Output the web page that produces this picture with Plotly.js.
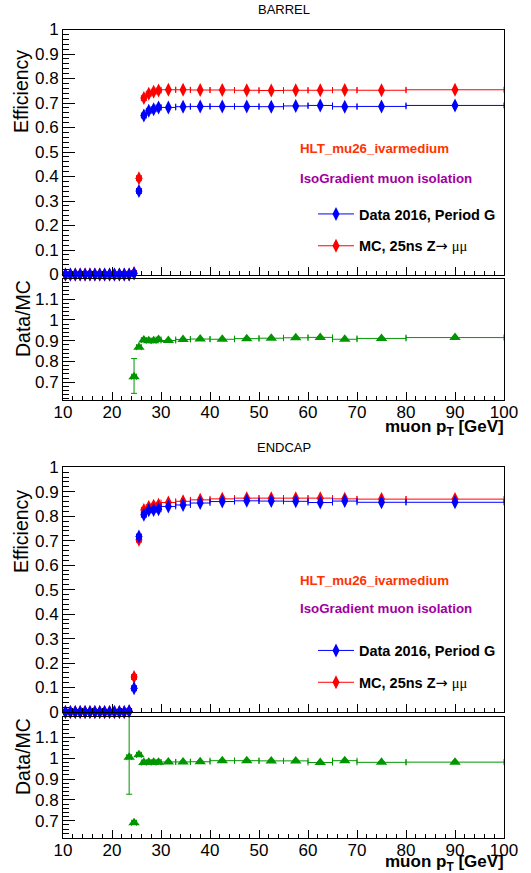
<!DOCTYPE html>
<html>
<head>
<meta charset="utf-8">
<script src="https://cdn.plot.ly/plotly-3.0.1.min.js"></script>
<style>html,body{margin:0;padding:0;background:#fff;}#plot{width:531px;height:873px;}</style>
</head>
<body>
<div id="plot"></div>
<script>
// ---------- data ----------
const binCenters = [10.5,11.5,12.5,13.5,14.5,15.5,16.5,17.5,18.5,19.5,20.5,21.5,22.5,23.5,24.5,25.5,26.5,27.5,28.5,29.5,31.5,34.5,38,42.5,47.5,52.5,57.5,62.5,67.5,75,90];
const binHalfWidths = [0.5,0.5,0.5,0.5,0.5,0.5,0.5,0.5,0.5,0.5,0.5,0.5,0.5,0.5,0.5,0.5,0.5,0.5,0.5,0.5,1.5,1.5,2,2.5,2.5,2.5,2.5,2.5,2.5,5,10];

const barrelData = [0,0,0,0,0,0,0,0,0,0,0,0,0,0,0.004,0.341,0.649,0.668,0.675,0.682,0.682,0.685,0.686,0.686,0.686,0.685,0.688,0.690,0.685,0.686,0.690];
const barrelMC   = [0,0,0,0,0,0,0,0,0,0,0,0,0,0,0.006,0.393,0.720,0.738,0.746,0.751,0.754,0.754,0.753,0.753,0.752,0.751,0.752,0.752,0.753,0.752,0.754];

const endcapData = [0,0,0,0,0,0,0,0,0,0,0,0,0,0.003,0.097,0.717,0.806,0.824,0.826,0.829,0.840,0.846,0.854,0.860,0.863,0.862,0.861,0.856,0.862,0.857,0.857];
const endcapMC   = [0,0,0,0,0,0,0,0,0,0,0,0,0,0.003,0.143,0.704,0.826,0.838,0.843,0.847,0.856,0.861,0.867,0.871,0.874,0.874,0.874,0.874,0.871,0.870,0.870];

const barrelRatioX = [24.5,25.5,26.5,27.5,28.5,29.5,31.5,34.5,38,42.5,47.5,52.5,57.5,62.5,67.5,75,90];
const barrelRatioHalfW = [0.5,0.5,0.5,0.5,0.5,0.5,1.5,1.5,2,2.5,2.5,2.5,2.5,2.5,2.5,5,10];
const barrelRatio = [0.727,0.869,0.903,0.900,0.900,0.906,0.901,0.906,0.908,0.907,0.910,0.912,0.914,0.916,0.907,0.911,0.915];
const barrelRatioErrUp = [0.087,0.006,0.005,0.005,0.005,0.005,0.004,0.004,0.004,0.004,0.004,0.004,0.004,0.004,0.004,0.004,0.004];
const barrelRatioErrDn = [0.080,0.006,0.005,0.005,0.005,0.005,0.004,0.004,0.004,0.004,0.004,0.004,0.004,0.004,0.004,0.004,0.004];

const endcapRatioX = [23.5,24.5,25.5,26.5,27.5,28.5,29.5,31.5,34.5,38,42.5,47.5,52.5,57.5,62.5,67.5,75,90];
const endcapRatioHalfW = [0.5,0.5,0.5,0.5,0.5,0.5,0.5,1.5,1.5,2,2.5,2.5,2.5,2.5,2.5,2.5,5,10];
const endcapRatio = [1.005,0.690,1.016,0.979,0.980,0.980,0.980,0.982,0.982,0.983,0.988,0.988,0.987,0.987,0.979,0.988,0.980,0.981];
const endcapRatioErrUp = [0.300,0.005,0.005,0.005,0.005,0.005,0.005,0.004,0.004,0.004,0.004,0.004,0.004,0.004,0.004,0.004,0.004,0.004];
const endcapRatioErrDn = [0.178,0.005,0.005,0.005,0.005,0.005,0.005,0.004,0.004,0.004,0.004,0.004,0.004,0.004,0.004,0.004,0.004,0.004];

const xTickLabels = ['10','20','30','40','50','60','70','80','90','100'];
const effTickLabels = ['0','0.1','0.2','0.3','0.4','0.5','0.6','0.7','0.8','0.9','1'];
const ratioTickLabels = ['0.7','0.8','0.9','1','1.1'];

const legendData = 'Data 2016, Period G';
const legendMC = "MC, 25ns Z<span style=\"font-family:'DejaVu Sans';font-weight:normal\">\u2192</span> <span style=\"font-family:'Liberation Serif';font-weight:normal\">\u03bc\u03bc</span>";

// ---------- layout helpers ----------
const W = 531, H = 873;
const PX = v => v / W;
const PY = v => 1 - v / H;
const FONT = 'Liberation Sans, Arial, Helvetica, sans-serif';
const BLUE = '#0000ff', RED = '#ff0000', GREEN = '#009600';

function effTrace(y, color, xa, ya) {
  return {
    x: binCenters, y: y, xaxis: xa, yaxis: ya, showlegend: false,
    type: 'scatter', mode: 'markers', cliponaxis: false,
    marker: {symbol: 'diamond-tall', size: 10, color: color},
    error_x: {type: 'data', array: binHalfWidths, color: color, thickness: 1, width: 3}
  };
}
// legend sample entries (no data points)
function legendEntry(name, color, xa, ya, leg, rank) {
  return {
    x: [null], y: [null], xaxis: xa, yaxis: ya, name: name, legend: leg, legendrank: rank,
    legendgroup: leg + rank, type: 'scatter', mode: 'lines+markers',
    line: {color: color, width: 1},
    marker: {symbol: 'diamond-tall', size: 10, color: color}
  };
}
function ratioTrace(x, hw, y, up, dn, xa, ya) {
  return {
    x: x, y: y, xaxis: xa, yaxis: ya, showlegend: false,
    type: 'scatter', mode: 'markers',
    marker: {symbol: 'triangle-up', size: 10, color: GREEN},
    error_x: {type: 'data', array: hw, color: GREEN, thickness: 1, width: 3},
    error_y: {type: 'data', symmetric: false, array: up, arrayminus: dn, color: GREEN, thickness: 1, width: 3}
  };
}

const traces = [
  effTrace(barrelMC, RED, 'x', 'y'),
  effTrace(barrelData, BLUE, 'x', 'y'),
  legendEntry(legendData, BLUE, 'x', 'y', 'legend', 1),
  legendEntry(legendMC, RED, 'x', 'y', 'legend', 2),
  ratioTrace(barrelRatioX, barrelRatioHalfW, barrelRatio, barrelRatioErrUp, barrelRatioErrDn, 'x2', 'y2'),
  effTrace(endcapMC, RED, 'x3', 'y3'),
  effTrace(endcapData, BLUE, 'x3', 'y3'),
  legendEntry(legendData, BLUE, 'x3', 'y3', 'legend2', 1),
  legendEntry(legendMC, RED, 'x3', 'y3', 'legend2', 2),
  ratioTrace(endcapRatioX, endcapRatioHalfW, endcapRatio, endcapRatioErrUp, endcapRatioErrDn, 'x4', 'y4')
];

const xDomain = [PX(63), PX(504)];
function xAxis(anchor, labels) {
  return {
    domain: xDomain, anchor: anchor, range: [10, 100],
    tickmode: 'array', tickvals: [10,20,30,40,50,60,70,80,90,100], ticktext: xTickLabels,
    showticklabels: labels, ticks: 'inside', ticklen: 8, tickcolor: '#000', tickwidth: 1,
    ticklabelstandoff: -3,
    minor: {dtick: 2, tick0: 10, ticks: 'inside', ticklen: 4, tickcolor: '#000', showgrid: false},
    showline: true, mirror: true, linecolor: '#000', linewidth: 1,
    showgrid: false, zeroline: false,
    tickfont: {family: FONT, size: 17, color: '#000'}
  };
}
function yEff(anchor, top, bottom) {
  return {
    domain: [PY(bottom), PY(top)], anchor: anchor, range: [0, 1],
    tickmode: 'array', tickvals: [0,0.1,0.2,0.3,0.4,0.5,0.6,0.7,0.8,0.9,1], ticktext: effTickLabels,
    ticks: 'inside', ticklen: 12, tickcolor: '#000',
    minor: {dtick: 0.02, tick0: 0, ticks: 'inside', ticklen: 6, tickcolor: '#000', showgrid: false},
    showline: true, mirror: true, linecolor: '#000', linewidth: 1,
    showgrid: false, zeroline: false,
    tickfont: {family: FONT, size: 17, color: '#000'}
  };
}
function yRatio(anchor, top, bottom, lo) {
  return {
    domain: [PY(bottom), PY(top)], anchor: anchor, range: [lo, 1.199],
    tickmode: 'array', tickvals: [0.7,0.8,0.9,1,1.1], ticktext: ratioTickLabels,
    ticks: 'inside', ticklen: 12, tickcolor: '#000',
    minor: {dtick: 0.02, tick0: 0, ticks: 'inside', ticklen: 6, tickcolor: '#000', showgrid: false},
    showline: true, mirror: true, linecolor: '#000', linewidth: 1,
    showgrid: false, zeroline: false,
    tickfont: {family: FONT, size: 17, color: '#000'}
  };
}

function ann(text, x, y, size, opts) {
  return Object.assign({
    text: text, xref: 'paper', yref: 'paper', x: PX(x), y: PY(y),
    showarrow: false, xanchor: 'center', yanchor: 'middle',
    font: {family: FONT, size: size, color: '#000'}
  }, opts || {});
}
const bold = (size, color) => ({family: FONT, size: size, color: color || '#000', weight: 'bold'});

const annotations = [
  ann('BARREL', 283.5, 9.5, 13),
  ann('ENDCAP', 283.5, 448, 13),
  ann('Efficiency', 21, 92, 19.5, {textangle: -90}),
  ann('Data/MC', 23, 319, 19.5, {textangle: -90}),
  ann('Efficiency', 21, 532, 19.5, {textangle: -90}),
  ann('Data/MC', 23, 757, 19.5, {textangle: -90}),
  ann('muon p<sub>T</sub> [GeV]', 505, 428, 17, {xanchor: 'right', font: bold(17), borderpad: 0}),
  ann('muon p<sub>T</sub> [GeV]', 505, 862.5, 17, {xanchor: 'right', font: bold(17), borderpad: 0}),
  ann('HLT_mu26_ivarmedium', 298, 148.3, 13.3, {xanchor: 'left', font: bold(13.3, '#ff3300')}),
  ann('IsoGradient muon isolation', 298, 178.3, 13.3, {xanchor: 'left', font: bold(13.3, '#a000a0')}),
  ann('HLT_mu26_ivarmedium', 298, 580.7, 13.3, {xanchor: 'left', font: bold(13.3, '#ff3300')}),
  ann('IsoGradient muon isolation', 298, 608.3, 13.3, {xanchor: 'left', font: bold(13.3, '#a000a0')})
];

function legendBox(topPx) {
  return {
    x: PX(313), xanchor: 'left', y: PY(topPx), yanchor: 'top',
    bgcolor: 'rgba(0,0,0,0)', borderwidth: 0,
    font: bold(14.5), traceorder: 'grouped', tracegroupgap: 10, itemwidth: 36
  };
}

const layout = {
  width: W, height: H,
  margin: {l: 0, r: 0, t: 0, b: 0},
  paper_bgcolor: '#fff', plot_bgcolor: '#fff',
  showlegend: true,
  xaxis: xAxis('y', false),
  xaxis2: xAxis('y2', true),
  xaxis3: xAxis('y3', false),
  xaxis4: xAxis('y4', true),
  yaxis: yEff('x', 29.5, 274.5),
  yaxis2: yRatio('x2', 278.5, 400, 0.615),
  yaxis3: yEff('x3', 467.3, 712),
  yaxis4: yRatio('x4', 716.7, 838, 0.617),
  legend: legendBox(198),
  legend2: legendBox(634.5),
  annotations: annotations
};

Plotly.newPlot('plot', traces, layout, {staticPlot: true, displayModeBar: false});
</script>
</body>
</html>
